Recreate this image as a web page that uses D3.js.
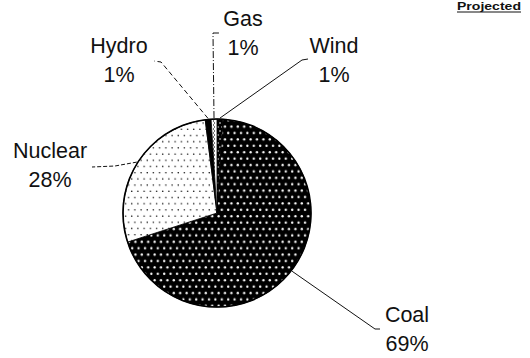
<!DOCTYPE html>
<html>
<head>
<meta charset="utf-8">
<script src="https://cdn.jsdelivr.net/npm/d3@7"></script>
<style>
  body { margin: 0; background: #fff; }
  text { font-family: "Liberation Sans", Arial, sans-serif; fill: #111; }
</style>
</head>
<body>
<svg width="530" height="358"></svg>
<script>
// chart data (clockwise from 12 o'clock)
const categories = ["Wind", "Coal", "Nuclear", "Hydro", "Gas"]
const shares = [1, 69, 28, 1, 1]
const cornerTitle = "Projected"

const svg = d3.select("svg")
const defs = svg.append("defs")

// staggered dot fills, looks like an old scanned print
function dotPattern(id, bg, fg, step, r) {
  const p = defs.append("pattern")
    .attr("id", id)
    .attr("patternUnits", "userSpaceOnUse")
    .attr("width", step)
    .attr("height", step * 2)
  p.append("rect").attr("width", step).attr("height", step * 2).attr("fill", bg)
  p.append("circle").attr("cx", step / 4).attr("cy", step / 2).attr("r", r).attr("fill", fg)
  p.append("circle").attr("cx", step * 3 / 4).attr("cy", step * 1.5).attr("r", r).attr("fill", fg)
}
dotPattern("coalFill", "#000", "#fff", 6.4, 1.15)
dotPattern("nuclearFill", "#fff", "#000", 6.2, 0.75)
dotPattern("windFill", "#000", "#fff", 4, 0.8)

const gasPat = defs.append("pattern")
  .attr("id", "gasFill")
  .attr("patternUnits", "userSpaceOnUse")
  .attr("width", 4)
  .attr("height", 4)
gasPat.append("rect").attr("width", 4).attr("height", 4).attr("fill", "#fff")
gasPat.append("path").attr("d", "M0,0 L2,2 L0,4").attr("stroke", "#555").attr("fill", "none").attr("stroke-width", 0.8)

const fills = {
  Wind: "url(#windFill)",
  Coal: "url(#coalFill)",
  Nuclear: "url(#nuclearFill)",
  Hydro: "#000",
  Gas: "url(#gasFill)"
}

const cx = 217, cy = 213, radius = 94

const pieData = d3.pie().sort(null).value((d, i) => shares[i])(categories)
const arc = d3.arc().innerRadius(0).outerRadius(radius)

const pieGroup = svg.append("g").attr("transform", `translate(${cx},${cy})`)

pieGroup.selectAll("path.slice")
  .data(pieData)
  .join("path")
  .attr("class", "slice")
  .attr("d", arc)
  .attr("fill", (d) => fills[d.data])
  .attr("stroke", "#000")
  .attr("stroke-width", 0.8)

pieGroup.append("circle")
  .attr("r", radius)
  .attr("fill", "none")
  .attr("stroke", "#000")
  .attr("stroke-width", 1.6)

// label placement (page coords) and leader line bends
const labelAt = {
  Gas: [243, 26],
  Wind: [334, 53],
  Hydro: [119, 53],
  Nuclear: [50, 158],
  Coal: [407, 322]
}
const leaderBends = {
  Gas: [[213, 33], [219, 33]],
  Wind: [[302, 60], [308, 59]],
  Hydro: [[161, 62], [154, 61]],
  Nuclear: [[115, 166], [92, 167]],
  Coal: [[375, 329], [380, 329]]
}
const leaderDash = {
  Gas: "7,2,1,2",
  Wind: null,
  Hydro: "5,3",
  Nuclear: "4,2",
  Coal: null
}

const line = d3.line()
pieData.forEach((d) => {
  const mid = (d.startAngle + d.endAngle) / 2
  const start = [cx + Math.sin(mid) * (radius + 1), cy - Math.cos(mid) * (radius + 1)]
  svg.append("path")
    .attr("d", line([start, ...leaderBends[d.data]]))
    .attr("fill", "none")
    .attr("stroke", "#111")
    .attr("stroke-width", 1)
    .attr("stroke-dasharray", leaderDash[d.data])

  const [lx, ly] = labelAt[d.data]
  const t = svg.append("text")
    .attr("text-anchor", "middle")
    .attr("font-size", 21.5)
  t.append("tspan").attr("x", lx).attr("y", ly).text(d.data)
  t.append("tspan").attr("x", lx).attr("y", ly + 29).text(d3.format(".0f")(shares[categories.indexOf(d.data)]) + "%")
})

// corner title, underlined
svg.append("text")
  .attr("x", 457)
  .attr("y", 10)
  .attr("font-size", 10.5)
  .attr("font-weight", "bold")
  .attr("textLength", 64)
  .attr("lengthAdjust", "spacingAndGlyphs")
  .text(cornerTitle)
svg.append("line")
  .attr("x1", 457).attr("x2", 521)
  .attr("y1", 12).attr("y2", 12)
  .attr("stroke", "#111")
  .attr("stroke-width", 1)
</script>
</body>
</html>
